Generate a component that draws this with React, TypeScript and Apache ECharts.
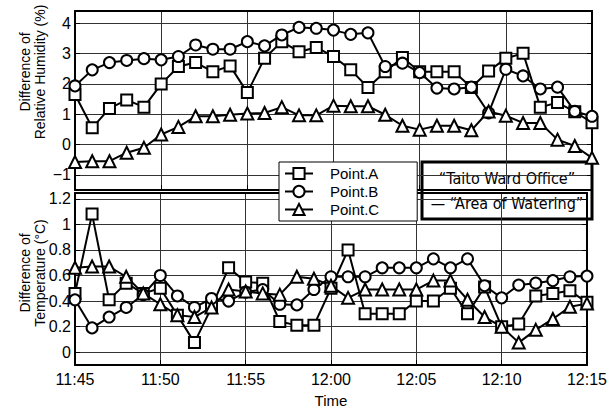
import React, { useEffect, useRef } from "react";
import * as echarts from "echarts";

const times = [
  "11:45", "11:46", "11:47", "11:48", "11:49", "11:50", "11:51", "11:52", "11:53", "11:54",
  "11:55", "11:56", "11:57", "11:58", "11:59", "12:00", "12:01", "12:02", "12:03", "12:04",
  "12:05", "12:06", "12:07", "12:08", "12:09", "12:10", "12:11", "12:12", "12:13", "12:14", "12:15",
];

const rhA = [1.65, 0.55, 1.19, 1.47, 1.23, 1.99, 2.57, 2.70, 2.40, 2.59, 1.71, 2.84, 3.39, 3.06, 3.20, 2.90,
  2.46, 1.88, 2.40, 2.87, 2.40, 2.40, 2.40, 1.88, 2.42, 2.84, 3.01, 1.23, 1.38, 1.08, 0.72];
const rhB = [1.93, 2.46, 2.70, 2.77, 2.83, 2.79, 2.90, 3.28, 3.14, 3.14, 3.39, 3.25, 3.61, 3.86, 3.83, 3.77,
  3.63, 3.68, 2.57, 2.68, 2.37, 1.86, 1.83, 1.89, 1.04, 2.48, 2.26, 1.83, 1.89, 1.09, 0.93];
const rhC = [-0.58, -0.55, -0.55, -0.27, -0.11, 0.33, 0.58, 0.93, 0.93, 0.98, 1.02, 1.04, 1.23, 0.96, 0.96, 1.28,
  1.26, 1.26, 0.98, 0.62, 0.49, 0.62, 0.62, 0.47, 1.09, 0.95, 0.71, 0.71, 0.16, -0.05, -0.44];

const tA = [0.46, 1.08, 0.41, 0.54, 0.46, 0.50, 0.29, 0.075, 0.35, 0.66, 0.55, 0.54, 0.24, 0.21, 0.21, 0.50,
  0.80, 0.30, 0.30, 0.30, 0.40, 0.40, 0.50, 0.30, 0.51, 0.20, 0.22, 0.44, 0.46, 0.48, 0.39];
const tB = [0.41, 0.19, 0.275, 0.35, 0.45, 0.60, 0.44, 0.35, 0.42, 0.40, 0.47, 0.49, 0.375, 0.37, 0.49, 0.59,
  0.59, 0.59, 0.66, 0.66, 0.66, 0.73, 0.66, 0.73, 0.52, 0.425, 0.525, 0.54, 0.56, 0.59, 0.595];
const tC = [0.66, 0.67, 0.67, 0.59, 0.46, 0.375, 0.29, 0.275, 0.35, 0.49, 0.475, 0.46, 0.45, 0.59, 0.575, 0.52,
  0.425, 0.49, 0.49, 0.49, 0.49, 0.56, 0.56, 0.41, 0.275, 0.20, 0.075, 0.175, 0.26, 0.355, 0.38];

const rhTicks = [-1, 0, 1, 2, 3, 4];
const tTicks = [0, 0.2, 0.4, 0.6, 0.8, 1, 1.2];

const seriesNames = ["Point.A", "Point.B", "Point.C"];
const symbols = ["emptyRect", "emptyCircle", "emptyTriangle"];

const FONT = "Liberation Sans, Arial, sans-serif";
const NARROW = "Liberation Sans Narrow, DejaVu Sans Condensed, sans-serif";

export default function App() {
  const ref = useRef<HTMLDivElement>(null);
  useEffect(() => {
    if (!ref.current) return;
    const chart = echarts.init(ref.current, undefined, { renderer: "svg" });

    const frameLine = { show: true, onZero: false, lineStyle: { color: "#000", width: 2 } };

    const xAxisBase = (gridIndex: number, showLabels: boolean) => ({
      type: "category",
      gridIndex,
      data: times,
      boundaryGap: false,
      axisLine: frameLine,
      axisTick: { show: true, inside: true, interval: 4, length: 5, lineStyle: { color: "#000" } },
      axisLabel: {
        show: showLabels,
        interval: 4,
        color: "#000",
        fontSize: 16,
        fontFamily: FONT,
        margin: 6,
      },
      splitLine: { show: true, interval: 4, lineStyle: { color: "#333", width: 1 } },
      name: showLabels ? "Time" : "",
      nameLocation: "middle",
      nameGap: 28,
      nameTextStyle: { color: "#000", fontSize: 15, fontFamily: FONT },
    });

    const xAxisTop = (gridIndex: number) => ({
      type: "category",
      gridIndex,
      data: times,
      boundaryGap: false,
      position: "top",
      axisLine: frameLine,
      axisTick: { show: false },
      axisLabel: { show: false },
      splitLine: { show: false },
    });

    const yAxisLeft = (gridIndex: number, min: number, max: number, ticks: number[], fmt: (v: number) => string) => ({
      type: "value",
      gridIndex,
      min,
      max,
      position: "left",
      axisLine: frameLine,
      axisTick: { show: true, inside: true, length: 5, customValues: ticks, lineStyle: { color: "#000" } },
      axisLabel: {
        show: true,
        customValues: ticks,
        formatter: (v: number) => fmt(v),
        color: "#000",
        fontSize: 16,
        fontFamily: FONT,
        margin: 4,
      },
      splitLine: { show: true, lineStyle: { color: "#333", width: 1 } },
    });

    const yAxisRight = (gridIndex: number, min: number, max: number, ticks: number[]) => ({
      type: "value",
      gridIndex,
      min,
      max,
      position: "right",
      axisLine: frameLine,
      axisTick: { show: true, inside: true, length: 5, customValues: ticks, lineStyle: { color: "#000" } },
      axisLabel: { show: false, customValues: ticks },
      splitLine: { show: false },
    });

    const mkSeries = (name: string, sym: string, data: number[], xi: number, yi: number) => ({
      type: "line",
      name,
      data,
      xAxisIndex: xi,
      yAxisIndex: yi,
      symbol: sym,
      symbolSize: sym === "emptyTriangle" ? 12 : 11,
      showAllSymbol: true,
      lineStyle: { color: "#000", width: 2 },
      itemStyle: { color: "#000", borderColor: "#000", borderWidth: 1.6 },
      z: 3,
    });

    const option: any = {
      animation: false,
      backgroundColor: "#fff",
      grid: [
        { left: 75, right: 18, top: 11, height: 179, show: false },
        { left: 75, right: 18, top: 193, height: 179, show: false },
      ],
      xAxis: [xAxisBase(0, false), xAxisBase(1, true), xAxisTop(0), xAxisTop(1)],
      yAxis: [
        yAxisLeft(0, -1.5, 4.4, rhTicks, (v) => (v < 0 ? "\u2212" + Math.abs(v) : String(v))),
        yAxisRight(0, -1.5, 4.4, rhTicks),
        yAxisLeft(1, -0.1, 1.245, tTicks, (v) => String(Math.round(v * 10) / 10)),
        yAxisRight(1, -0.1, 1.245, tTicks),
      ],
      legend: {
        data: seriesNames,
        orient: "vertical",
        left: 279,
        top: 162,
        itemWidth: 28,
        itemHeight: 14,
        itemGap: 3,
        padding: [4, 38, 4, 5],
        backgroundColor: "#fff",
        borderColor: "#000",
        borderWidth: 1,
        textStyle: { color: "#000", fontSize: 15, fontFamily: FONT, padding: [0, 0, 0, 12] },
        z: 10,
      },
      graphic: [
        {
          type: "group",
          z: 20,
          children: [
            {
              type: "rect",
              shape: { x: 422, y: 162, width: 170, height: 57 },
              style: { fill: "#fff", stroke: "#000", lineWidth: 3 },
            },
            {
              type: "text",
              x: 507,
              y: 178,
              style: {
                text: "\u201CTaito Ward Office\u201D",
                fill: "#000",
                fontSize: 16,
                fontFamily: NARROW,
                align: "center",
                verticalAlign: "middle",
              },
            },
            {
              type: "text",
              x: 507,
              y: 203,
              style: {
                text: "\u2014 \u201CArea of Watering\u201D",
                fill: "#000",
                fontSize: 16,
                fontFamily: NARROW,
                align: "center",
                verticalAlign: "middle",
              },
            },
          ],
        },
        {
          type: "text",
          x: 32,
          y: 72,
          rotation: Math.PI / 2,
          style: {
            text: "Difference of\nRelative Humidity (%)",
            fill: "#000",
            fontSize: 14,
            lineHeight: 15,
            fontFamily: FONT,
            align: "center",
            verticalAlign: "middle",
          },
        },
        {
          type: "text",
          x: 32,
          y: 273,
          rotation: Math.PI / 2,
          style: {
            text: "Difference of\nTemperature (\u00B0C)",
            fill: "#000",
            fontSize: 14,
            lineHeight: 15,
            fontFamily: FONT,
            align: "center",
            verticalAlign: "middle",
          },
        },
      ],
      series: [
        mkSeries(seriesNames[0], symbols[0], rhA, 0, 0),
        mkSeries(seriesNames[1], symbols[1], rhB, 0, 0),
        mkSeries(seriesNames[2], symbols[2], rhC, 0, 0),
        mkSeries(seriesNames[0], symbols[0], tA, 1, 2),
        mkSeries(seriesNames[1], symbols[1], tB, 1, 2),
        mkSeries(seriesNames[2], symbols[2], tC, 1, 2),
      ],
    };

    chart.setOption(option);
    return () => chart.dispose();
  }, []);

  return (
    <div
      ref={ref}
      style={{ position: "fixed", left: 0, top: 0, width: 610, height: 409, background: "#fff" }}
    />
  );
}
